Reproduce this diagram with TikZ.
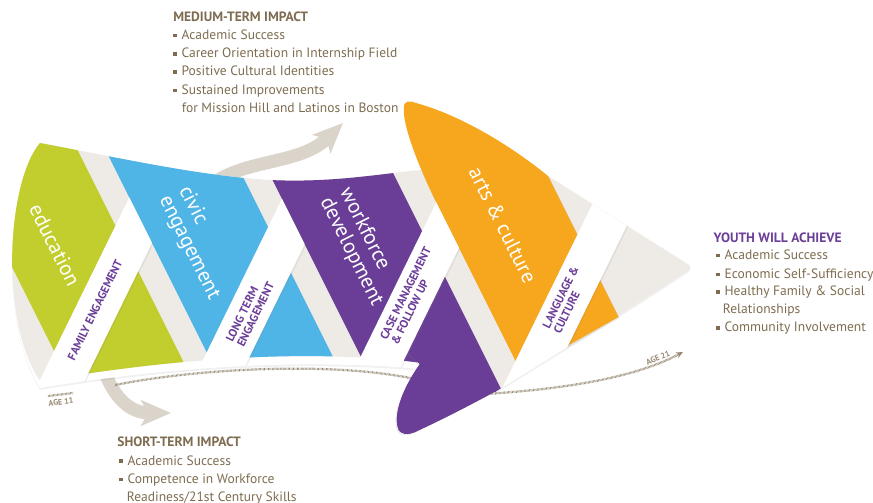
\documentclass[tikz,border=0pt]{standalone}
\usepackage{fontspec}
\setmainfont{PT Sans}
\usetikzlibrary{arrows.meta, shadows}

\definecolor{EduGreen}{RGB}{194, 205, 46}
\definecolor{CivicBlue}{RGB}{79, 180, 230}
\definecolor{WorkPurple}{RGB}{106, 62, 150}
\definecolor{ArtsOrange}{RGB}{246, 167, 30}
\definecolor{StripeGray}{RGB}{238, 235, 230}
\definecolor{ArrowTaupe}{RGB}{218, 212, 202}
\definecolor{TextBrown}{RGB}{125, 108, 80}
\definecolor{LabelPurple}{RGB}{107, 62, 152}
\definecolor{AgeDots}{RGB}{150, 137, 114}

% outline of the whole shape, with the white rim at the bottom
\newcommand{\outerbody}{(40,143) .. controls (120,158) and (200,176) .. (270,180) .. controls (330,183) and (380,174) .. (420,170) -- (548,176) -- (686,263) .. controls (692,266) and (692,269) .. (686,272) .. controls (640,303) and (560,352) .. (495,392) -- (430,370) .. controls (330,360) and (200,362) .. (40,388) .. controls (-2,320) and (8,180) .. (40,143) -- cycle}
% same outline without the rim
\newcommand{\innerbody}{(40,143) .. controls (120,158) and (200,176) .. (270,180) .. controls (330,183) and (380,174) .. (420,170) -- (548,176) -- (686,263) .. controls (692,266) and (692,269) .. (686,272) .. controls (640,303) and (560,352) .. (495,392) -- (430,364) .. controls (330,350) and (200,354) .. (40,381) .. controls (-2,318) and (8,180) .. (40,143) -- cycle}
\newcommand{\sqb}{\rule[0.3ex]{0.55ex}{0.55ex}\hspace{2.6pt}}

\tikzset{
    impactarrow/.style={ArrowTaupe, line width=7.4pt, -{Stealth[length=17pt, width=14.5pt, inset=4pt]}},
    agedots/.style={AgeDots, line width=1.3pt, dash pattern=on 0.35pt off 0.4pt},
    stripelabel/.style={text=white, inner sep=0pt, align=left, rotate=-63.4, font=\fontsize{12}{12.5}\selectfont},
    bandlabel/.style={text=LabelPurple, inner sep=0pt, align=left, rotate=63.9, font=\bfseries\fontsize{6.6}{7}\selectfont},
    impacthead/.style={anchor=base west, inner sep=0pt, text=TextBrown, font=\bfseries\fontsize{7.7}{9}\selectfont},
    impactitem/.style={anchor=base west, inner sep=0pt, text=TextBrown, font=\fontsize{7.7}{9}\selectfont},
    agelabel/.style={inner sep=0pt, text=AgeDots, font=\bfseries\fontsize{4.6}{5}\selectfont},
    softshadow/.style={drop shadow={shadow xshift=0.7pt, shadow yshift=-0.7pt, opacity=0.13}}
}

\begin{document}
\begin{tikzpicture}[x=0.02cm, y=-0.02cm]
    \useasboundingbox (0,0) rectangle (873,503);

    % Impact arrows (behind the shape)
    \draw[impactarrow] (212,184) .. controls (248,158) and (300,165) .. (343,123);
    \draw[impactarrow] (104,370) .. controls (114,398) and (130,413) .. (171,413);

    % Body
    \fill[white, drop shadow={shadow xshift=0pt, shadow yshift=-1pt, opacity=0.12}] \outerbody;
    \fill[StripeGray] \innerbody;

    % Programme stripes
    \begin{scope}
        \clip \innerbody;
        \foreach \a/\col in {8.5/EduGreen, 160.5/CivicBlue, 312.5/WorkPurple}
            \fill[\col] ({\a-90},80) -- ({\a+34},80) -- ({\a+219},450) -- ({\a+95},450) -- cycle;
    \end{scope}

    % Flaps
    \fill[ArtsOrange, softshadow] (437.5,205) .. controls (420,170) and (402,125) .. (404,108) .. controls (403,101) and (410,100) .. (416,103) .. controls (460,115) and (510,145) .. (548,176) -- (618.5,317) -- (521,372) -- cycle;
    \fill[WorkPurple, drop shadow={shadow xshift=-0.8pt, shadow yshift=-0.8pt, opacity=0.16}] (380,325) -- (420,364) .. controls (405,385) and (393,412) .. (398,428) .. controls (400,435) and (408,435) .. (415,432) .. controls (445,418) and (470,405) .. (496,391) -- (467.5,325) -- cycle;

    % Age line
    \draw[agedots, -{Stealth[length=4pt, width=3.5pt]}] (115,385) .. controls (200,368) and (330,362) .. (410,378) .. controls (450,388) and (470,396) .. (500,393) .. controls (580,387) and (640,375) .. (683,352);
    \fill[WorkPurple] (420,364) .. controls (405,385) and (393,412) .. (398,428) .. controls (400,435) and (408,435) .. (415,432) .. controls (445,418) and (470,405) .. (496,391) -- (467.5,325) -- (380,325) -- cycle;
    \draw[agedots] (48,396) -- (73,393);

    % Support bands
    \foreach \b/\an in {98.7/160.5, 252/312.5, 408/465, 565/2000}{
        \begin{scope}
            \clip \outerbody;
            \clip (-100,80) -- ({\an-90},80) -- ({\an+95},450) -- (-100,450) -- cycle;
            \fill[white, softshadow] ({\b+68.6},120) -- ({\b+113.6},120) -- ({\b-48.1},450) -- ({\b-93.1},450) -- cycle;
        \end{scope}
    }

    % Labels
    \node[stripelabel] (edu) at (55,245) {education};
    \node[stripelabel] (civic) at (199,243) {civic\\engagement};
    \node[stripelabel] (work) at (361,247) {workforce\\development};
    \node[stripelabel] (arts) at (503,225) {arts \& culture};

    \node[bandlabel] (family) at (95,310) {FAMILY ENGAGEMENT};
    \node[bandlabel] (longterm) at (250,312) {LONG TERM\\ENGAGEMENT};
    \node[bandlabel] (casemgmt) at (411,296) {CASE MANAGEMENT\\\& FOLLOW UP};
    \node[bandlabel] (language) at (566,300) {LANGUAGE \&\\CULTURE};

    \node[agelabel, rotate=7] (age11) at (61,402) {AGE 11};
    \node[agelabel, rotate=24] (age21) at (658,358) {AGE 21};

    % Impact lists
    \node[impacthead] (midhead) at (173,21.7) {MEDIUM-TERM IMPACT};
    \node[impactitem] (mid1) at (173,39.3) {\sqb Academic Success};
    \node[impactitem] (mid2) at (173,57.8) {\sqb Career Orientation in Internship Field};
    \node[impactitem] (mid3) at (173,76) {\sqb Positive Cultural Identities};
    \node[impactitem] (mid4) at (173,94.3) {\sqb Sustained Improvements};
    \node[impactitem] (mid5) at (181.5,112.7) {for Mission Hill and Latinos in Boston};

    \node[impacthead] (shorthead) at (117,446.7) {SHORT-TERM IMPACT};
    \node[impactitem] (short1) at (119,465) {\sqb Academic Success};
    \node[impactitem] (short2) at (119,483.3) {\sqb Competence in Workforce};
    \node[impactitem] (short3) at (126.5,501) {Readiness/21st Century Skills};

    \node[impacthead, text=LabelPurple] (youthhead) at (713.3,242.7) {YOUTH WILL ACHIEVE};
    \node[impactitem] (youth1) at (716,259.3) {\sqb Academic Success};
    \node[impactitem] (youth2) at (716,278.3) {\sqb Economic Self-Sufficiency};
    \node[impactitem] (youth3) at (716,296) {\sqb Healthy Family \& Social};
    \node[impactitem] (youth4) at (722.5,314) {Relationships};
    \node[impactitem] (youth5) at (716,331.7) {\sqb Community Involvement};
\end{tikzpicture}
\end{document}
